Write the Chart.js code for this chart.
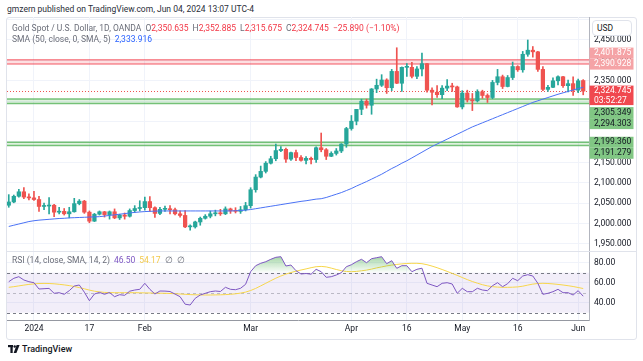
<!DOCTYPE html>
<html>
<head>
<meta charset="utf-8">
<script src="https://cdn.jsdelivr.net/npm/chart.js@4.4.1/dist/chart.umd.min.js"></script>
<style>
  body { margin: 0; background: #fff; font-family: Roboto, "Liberation Sans", sans-serif; }
  #wrap { position: relative; width: 643px; height: 361px; overflow: hidden; }
  #frame { position: absolute; left: 6px; top: 17px; width: 631px; height: 323px; border: 1px solid #e0e3eb; box-sizing: border-box; border-radius: 3px; }
  canvas { position: absolute; left: 0; }
  #main { top: 17px; }
  #rsi { top: 251px; }
  .sep { position: absolute; left: 7px; top: 251px; width: 629px; height: 1px; background: #e0e3eb; }
  .txt { position: absolute; white-space: nowrap; font-size: 8.5px; line-height: 10px; color: #6a6d78; }
  .txt b { font-weight: normal; margin-left: 4px; }
  .hdr { left: 7px; top: 4px; color: #2a2e39; }
  .red { color: #f23645; }
  .blue { color: #2962ff; }
  .pur { color: #7e57c2; }
  .yel { color: #f2c94c; }
  #usd { position: absolute; left: 592px; top: 20px; width: 40px; height: 16px; box-sizing: border-box; border: 1px solid #e0e3eb; border-radius: 4px; background: #fff; font-size: 8.5px; line-height: 14px; padding-left: 4px; color: #131722; }
  #foot { position: absolute; left: 8px; top: 344px; font-size: 9px; line-height: 10px; color: #131722; font-weight: 500; }
  #foot svg { vertical-align: -1px; margin-right: 2px; }
</style>
</head>
<body>
<div id="wrap">
  <div id="frame"></div>
  <canvas id="main" width="643" height="234"></canvas>
  <canvas id="rsi" width="643" height="89"></canvas>
  <div class="sep"></div>
  <div class="txt hdr">gmzern published on TradingView.com, Jun 04, 2024 13:07 UTC-4</div>
  <div class="txt" style="left:12px;top:22.5px">Gold Spot / U.S. Dollar, 1D, OANDA<b>O</b><span class="red">2,350.635</span><b>H</b><span class="red">2,352.885</span><b>L</b><span class="red">2,315.675</span><b>C</b><span class="red">2,324.745</span><b class="red">−25.890 (−1.10%)</b></div>
  <div class="txt" style="left:12px;top:34px">SMA (50, close, 0, SMA, 5)<b class="blue">2,333.916</b></div>
  <div class="txt" style="left:12px;top:255px">RSI (14, close, SMA, 14, 2)<b class="pur">46.50</b><b class="yel">54.17</b><b>∅</b><b>∅</b></div>
  <div id="usd">USD</div>
  <div id="foot"><svg width="12" height="8" viewBox="0 0 12 8"><rect x="0" y="0" width="5" height="2.2" fill="#131722"/><rect x="2.4" y="0" width="2.3" height="8" fill="#131722"/><circle cx="6.7" cy="1.5" r="1.2" fill="#131722"/><polygon points="8.6,0 11.6,0 8.4,8 5.6,8" fill="#131722"/></svg>TradingView</div>
</div>
<script>
(function() {
	'use strict';

	var FONT = 'Roboto, "Liberation Sans", sans-serif';

	// trading days, Dec 22 2023 .. Jun 04 2024
	var dates = ['12-22','12-26','12-27','12-28','12-29',
		'01-02','01-03','01-04','01-05','01-08','01-09','01-10','01-11','01-12','01-15','01-16','01-17','01-18','01-19','01-22','01-23','01-24','01-25','01-26','01-29','01-30','01-31',
		'02-01','02-02','02-05','02-06','02-07','02-08','02-09','02-12','02-13','02-14','02-15','02-16','02-19','02-20','02-21','02-22','02-23','02-26','02-27','02-28','02-29',
		'03-01','03-04','03-05','03-06','03-07','03-08','03-11','03-12','03-13','03-14','03-15','03-18','03-19','03-20','03-21','03-22','03-25','03-26','03-27','03-28',
		'04-01','04-02','04-03','04-04','04-05','04-08','04-09','04-10','04-11','04-12','04-15','04-16','04-17','04-18','04-19','04-22','04-23','04-24','04-25','04-26','04-29','04-30',
		'05-01','05-02','05-03','05-06','05-07','05-08','05-09','05-10','05-13','05-14','05-15','05-16','05-17','05-20','05-21','05-22','05-23','05-24','05-27','05-28','05-29','05-30','05-31',
		'06-03','06-04'];

	var opens = [2045,2053,2067,2078,2065,
		2063,2059,2042,2043,2045,2028,2030,2024,2029,2049,2055,2028,2006,2023,2029,2022,2029,2014,2021,2018,2032,2037,
		2039,2054,2039,2025,2035,2035,2034,2024,2020,1992,1992,2004,2013,2018,2024,2026,2024,2036,2031,2030,2034,
		2044,2083,2114,2128,2148,2159,2179,2182,2158,2174,2162,2155,2160,2157,2186,2181,2165,2172,2178,2195,
		2233,2251,2280,2300,2290,2330,2339,2352,2333,2373,2344,2383,2383,2361,2379,2392,2327,2322,2316,2332,2337,2335,
		2286,2320,2303,2301,2323,2314,2309,2346,2360,2336,2358,2385,2377,2415,2425,2421,2378,2329,2334,2350,2360,2338,2343,
		2327,2350.635];
	var highs = [2071,2070,2084,2088,2073,
		2079,2067,2050,2064,2047,2040,2037,2040,2062,2059,2057,2031,2025,2031,2030,2031,2036,2023,2026,2036,2044,2056,
		2065,2066,2041,2040,2043,2044,2038,2031,2032,1997,2006,2016,2022,2031,2033,2035,2041,2038,2039,2042,2052,
		2088,2120,2141,2152,2165,2195,2189,2185,2175,2180,2167,2164,2163,2188,2222,2184,2176,2184,2196,2236,
		2265,2280,2305,2305,2331,2354,2365,2355,2378,2431,2384,2392,2395,2385,2418,2393,2333,2338,2338,2353,2344,2337,
		2326,2327,2319,2328,2327,2318,2351,2378,2364,2363,2396,2387,2422,2450,2434,2422,2385,2339,2357,2362,2361,2352,2360,
		2354,2352.885];
	var lows = [2040,2051,2065,2061,2058,
		2057,2030,2034,2024,2017,2024,2021,2014,2028,2046,2025,2002,2005,2021,2016,2011,2012,2010,2011,2016,2027,2031,
		2033,2030,2015,2022,2030,2024,2021,2016,1990,1984,1989,1996,2011,2014,2019,2020,2022,2025,2026,2025,2031,
		2038,2077,2112,2124,2146,2154,2176,2150,2155,2154,2153,2146,2146,2150,2176,2157,2164,2168,2174,2187,
		2229,2242,2267,2283,2268,2321,2336,2319,2326,2343,2324,2361,2357,2355,2362,2322,2291,2309,2306,2326,2324,2285,
		2281,2298,2277,2298,2307,2297,2306,2340,2331,2335,2353,2373,2371,2410,2408,2373,2326,2324,2333,2340,2334,2323,2314,
		2321,2315.675];
	var closes = [2053,2067,2078,2065,2063,
		2059,2042,2043,2045,2028,2030,2024,2029,2049,2055,2028,2006,2023,2029,2022,2029,2014,2021,2018,2032,2037,2039,
		2054,2039,2025,2035,2035,2034,2024,2020,1992,1992,2004,2013,2018,2024,2026,2024,2036,2031,2030,2034,2044,
		2083,2114,2128,2148,2159,2179,2182,2158,2174,2162,2155,2160,2157,2186,2181,2165,2172,2178,2195,2233,
		2251,2280,2300,2290,2330,2339,2352,2333,2373,2344,2383,2383,2361,2379,2392,2327,2322,2316,2332,2337,2335,2286,
		2320,2303,2301,2323,2314,2309,2346,2360,2336,2358,2385,2377,2415,2425,2421,2378,2329,2334,2350,2360,2338,2343,2327,
		2350,2324.745];

	// SMA 50
	var sma50 = [1993,1996,1999,2002,2005,2007,2008.5,2009.5,2010.5,2011.5,2012.5,2013,2014,2014.5,2015,2015.5,2016,2016.5,2017,2018.5,
		2020,2021.5,2023,2024.5,2026,2027.5,2028.5,2029.5,2030,2030.5,2031,2031,2031,2031,2031,2031,2031,2031,2031,2031,
		2031,2031,2031,2031,2031,2031.5,2032,2033,2034.5,2036.5,2038.5,2040.5,2042.5,2044.5,2046.5,2048.5,2050.5,2052.5,2054.5,2056,
		2058,2060,2061,2064,2068,2072,2076,2081,2086,2092,2097.5,2103,2109,2115,2121,2128,2135,2141,2148,2154,
		2161,2168,2175,2182,2189,2195,2201,2207,2213,2219,2225,2231,2237,2242,2247,2252,2257,2262,2267,2272,
		2277,2282,2287,2292,2297,2301,2305,2309,2313,2317,2320.5,2324,2327.5,2331,2334];

	// RSI 14 and its 14-period SMA
	var rsi = [61,64.4,66,62.7,61,60,53.7,54,54.3,49.4,50,48.4,52,56.7,57.7,50.5,42,48.7,50.3,48.4,
		50.2,46,48,47.4,51.5,52.7,53.4,59.4,53.4,48.7,51.7,51.6,51.2,48.6,46,38.5,37.7,44.4,47.7,49.4,
		51,51.7,51.2,55.4,53.4,53,54.4,58.4,71,77,79.4,81,83.4,85.4,86,76.7,77.7,72,68.7,69.2,
		68.5,73.4,71,65.4,66,67.7,70,76,78,81,83.4,80,84,85,86,79,82,74.4,77,77,
		71,73.4,74.5,59.4,57.7,56,59.4,60,58.7,49.4,54.4,51,51,54.4,52.7,52,57,60,56,59,
		64.4,62,66.7,68,66.7,59.4,48.4,49.4,51,53.4,50,50,47.7,52,46.5];
	var rsiMa = [55.4,56,56.8,57.6,58.3,58.8,59.2,59.3,59.2,58.9,58.4,57.8,57.1,56.2,55.1,53.9,52.6,51.5,50.8,50.3,
		50.1,50,50,50,50,50,49.9,49.8,49.7,49.6,49.5,49.4,49.2,49,48.7,48.4,48.1,47.9,47.8,47.7,
		47.7,47.8,47.9,48.1,48.4,48.9,49.6,50.6,52.2,54.3,56.8,59.4,62,64.5,66.7,68.6,70.2,71.5,72.7,73.8,
		75,76,76.3,75.8,74.6,73.2,72,71.2,71,71.3,71.9,72.6,73.6,74.8,75.8,76.8,77.6,78.3,78.8,79.2,
		79.4,79.4,79,78,76.6,75,73.2,71.3,69.3,67.3,65.2,63.1,61.2,59.5,58,56.8,56,55.6,55.4,55.4,
		55.5,55.8,56.5,57.6,58.6,59.2,59.4,59.2,58.8,58.3,57.7,57,56.2,55.2,54.17];
	var rsiLevels = [70, 50, 30];

	// drawn price zones and labels
	var redZone = [2390.928, 2401.875];
	var greenZones = [[2294.303, 2305.349], [2191.279, 2199.360]];
	var countdown = '03:52:27';

	var tickDates = ['01-02','01-17','02-01','03-01','04-01','04-16','05-01','05-16','06-03'];
	var tickLabels = ['2024','17','Feb','Mar','Apr','16','May','16','Jun'];
	var tickIdx = tickDates.map(function(d) { return dates.indexOf(d); });

	var xMin = -0.35, xMax = 115.15;
	var upColor = '#26a69a', downColor = '#ef5350';
	var last = closes.length - 1;

	function money(v, d) {
		return v.toLocaleString('en-US', {minimumFractionDigits: d, maximumFractionDigits: d});
	}
	function candleColor(c) {
		var i = c.dataIndex;
		return closes[i] >= opens[i] ? upColor : downColor;
	}
	function noPad(s) {
		s.paddingTop = 0; s.paddingBottom = 0; s.paddingLeft = 0; s.paddingRight = 0;
	}

	function xAxis(showLabels) {
		return {
			type: 'linear', min: xMin, max: xMax, offset: false,
			afterBuildTicks: function(s) {
				s.ticks = tickIdx.map(function(v) { return {value: v}; });
			},
			afterFit: function(s) { s.height = showLabels ? 20 : 0; noPad(s); },
			ticks: {
				display: showLabels, autoSkip: false, maxRotation: 0, padding: 4,
				color: '#131722', font: {size: 8.5, family: FONT},
				callback: function(v, k) { return tickLabels[k]; }
			},
			grid: {color: '#f0f3fa', drawTicks: false, offset: false},
			border: {display: showLabels, color: '#9598a1'}
		};
	}

	var zonesPlugin = {
		id: 'zones',
		beforeDatasetsDraw: function(chart) {
			var ctx = chart.ctx, a = chart.chartArea, y = chart.scales.y;
			function band(lo, hi, fill, line) {
				var p1 = y.getPixelForValue(hi), p2 = y.getPixelForValue(lo);
				ctx.fillStyle = fill;
				ctx.fillRect(a.left, p1, a.right - a.left, p2 - p1);
				ctx.strokeStyle = line;
				ctx.lineWidth = 1.5;
				[p1, p2].forEach(function(p) {
					ctx.beginPath(); ctx.moveTo(a.left, p); ctx.lineTo(a.right, p); ctx.stroke();
				});
			}
			ctx.save();
			band(redZone[0], redZone[1], 'rgba(242,54,69,0.16)', 'rgba(242,54,69,0.55)');
			greenZones.forEach(function(z) {
				band(z[0], z[1], 'rgba(76,175,80,0.18)', 'rgba(76,175,80,0.75)');
			});
			// last price line
			var py = Math.round(y.getPixelForValue(closes[last])) + 0.5;
			ctx.setLineDash([1, 2]);
			ctx.lineWidth = 1;
			ctx.strokeStyle = '#ef5350';
			ctx.beginPath(); ctx.moveTo(a.left, py); ctx.lineTo(a.right, py); ctx.stroke();
			ctx.restore();
		}
	};

	var tagsPlugin = {
		id: 'tags',
		afterDraw: function(chart) {
			var ctx = chart.ctx, y = chart.scales.y;
			var x = chart.chartArea.right + 0.5, w = 44, h = 11, gap = 2;
			function tag(cy, rows, bg, fg) {
				ctx.fillStyle = bg;
				ctx.fillRect(x, cy - h / 2, w, h + (rows.length - 1) * 8.5);
				ctx.fillStyle = fg;
				ctx.font = '8.5px ' + FONT;
				ctx.textAlign = 'left';
				ctx.textBaseline = 'middle';
				rows.forEach(function(t, k) { ctx.fillText(t, x + 4.5, cy + k * 9.3); });
			}
			ctx.save();
			var cur = y.getPixelForValue(closes[last]);
			var curTop = cur - h / 2, curBottom = curTop + h + 8.5;

			// above the last price: push upwards
			var bound = curTop - gap;
			redZone.slice().sort(function(a, b) { return a - b; }).forEach(function(v) {
				var c = Math.min(y.getPixelForValue(v), bound - h / 2);
				tag(c, [money(v, 3)], '#f5a3a6', '#ffffff');
				bound = c - h / 2;
			});
			// below: push downwards
			bound = curBottom + gap;
			var below = [];
			greenZones.forEach(function(z) { below.push(z[1], z[0]); });
			below.sort(function(a, b) { return b - a; }).forEach(function(v) {
				var c = Math.max(y.getPixelForValue(v), bound + h / 2);
				tag(c, [money(v, 3)], '#81c784', '#131722');
				bound = c + h / 2;
			});
			tag(cur, [money(closes[last], 3), countdown], '#f0484f', '#ffffff');
			ctx.restore();
		}
	};

	var candleData = dates.map(function(d, i) { return {x: i, y: [opens[i], closes[i]]}; });
	var wickData = dates.map(function(d, i) { return {x: i, y: [lows[i], highs[i]]}; });
	var smaData = dates.map(function(d, i) { return {x: i, y: sma50[i]}; });

	var yMin = 1932.84, yMax = 2506.37;

	new Chart(document.getElementById('main'), {
		type: 'bar',
		data: {
			datasets: [{
				type: 'line', data: smaData, borderColor: '#4a72f5', borderWidth: 1,
				pointRadius: 0, tension: 0, order: -1
			}, {
				data: candleData, backgroundColor: candleColor, barThickness: 3.6,
				minBarLength: 1, grouped: false, order: 0
			}, {
				data: wickData, backgroundColor: candleColor, barThickness: 1,
				grouped: false, order: 1
			}]
		},
		options: {
			responsive: false, animation: false, devicePixelRatio: 1, events: [],
			layout: {padding: {left: 7, right: 0, top: 0, bottom: 0}},
			plugins: {legend: {display: false}, tooltip: {enabled: false}},
			scales: {
				x: xAxis(false),
				y: {
					position: 'right', min: yMin, max: yMax,
					afterFit: function(s) { s.width = 54; noPad(s); },
					ticks: {
						stepSize: 50, maxTicksLimit: 30, includeBounds: false, padding: 5,
						color: '#131722', font: {size: 8.5, family: FONT},
						callback: function(v) { return v > yMax - 10 ? '' : money(v, 3); }
					},
					grid: {color: '#f0f3fa', drawTicks: false},
					border: {display: true, color: '#b2b5be'}
				}
			}
		},
		plugins: [zonesPlugin, tagsPlugin]
	});

	var rsiBands = {
		id: 'rsiBands',
		beforeDatasetsDraw: function(chart) {
			var ctx = chart.ctx, a = chart.chartArea, y = chart.scales.y;
			var top = y.getPixelForValue(rsiLevels[0]), bot = y.getPixelForValue(rsiLevels[2]);
			ctx.save();
			ctx.fillStyle = 'rgba(126,87,194,0.1)';
			ctx.fillRect(a.left, top, a.right - a.left, bot - top);
			ctx.setLineDash([3, 3]);
			ctx.lineWidth = 1;
			rsiLevels.forEach(function(v, k) {
				var py = Math.round(y.getPixelForValue(v)) + 0.5;
				ctx.strokeStyle = k === 1 ? 'rgba(120,123,134,0.45)' : '#787b86';
				ctx.beginPath(); ctx.moveTo(a.left, py); ctx.lineTo(a.right, py); ctx.stroke();
			});
			ctx.restore();
		}
	};

	new Chart(document.getElementById('rsi'), {
		type: 'line',
		data: {
			datasets: [{
				data: dates.map(function(d, i) { return {x: i, y: rsi[i]}; }),
				borderColor: '#7e57c2', borderWidth: 1, pointRadius: 0, tension: 0,
				backgroundColor: function(c) {
					var ch = c.chart, ys = ch.scales.y;
					if (!ch.chartArea || !ys) return 'rgba(76,175,80,0.3)';
					var g = ch.ctx.createLinearGradient(0, ys.getPixelForValue(88), 0, ys.getPixelForValue(rsiLevels[0]));
					g.addColorStop(0, 'rgba(76,175,80,0.55)');
					g.addColorStop(1, 'rgba(76,175,80,0.02)');
					return g;
				},
				fill: {target: {value: rsiLevels[0]}, below: 'rgba(0,0,0,0)'}
			}, {
				data: dates.map(function(d, i) { return {x: i, y: rsiMa[i]}; }),
				borderColor: '#f7d64a', borderWidth: 1, pointRadius: 0, tension: 0, fill: false
			}]
		},
		options: {
			responsive: false, animation: false, devicePixelRatio: 1, events: [],
			layout: {padding: {left: 7, right: 0, top: 0, bottom: 0}},
			plugins: {legend: {display: false}, tooltip: {enabled: false}},
			scales: {
				x: xAxis(true),
				y: {
					position: 'right', min: 22.7, max: 91.7,
					afterFit: function(s) { s.width = 54; noPad(s); },
					ticks: {
						stepSize: 20, includeBounds: false, padding: 5,
						color: '#131722', font: {size: 8.5, family: FONT},
						callback: function(v) { return v.toFixed(2); }
					},
					grid: {color: '#f0f3fa', drawTicks: false},
					border: {display: true, color: '#b2b5be'}
				}
			}
		},
		plugins: [rsiBands]
	});
})();
</script>
</body>
</html>
